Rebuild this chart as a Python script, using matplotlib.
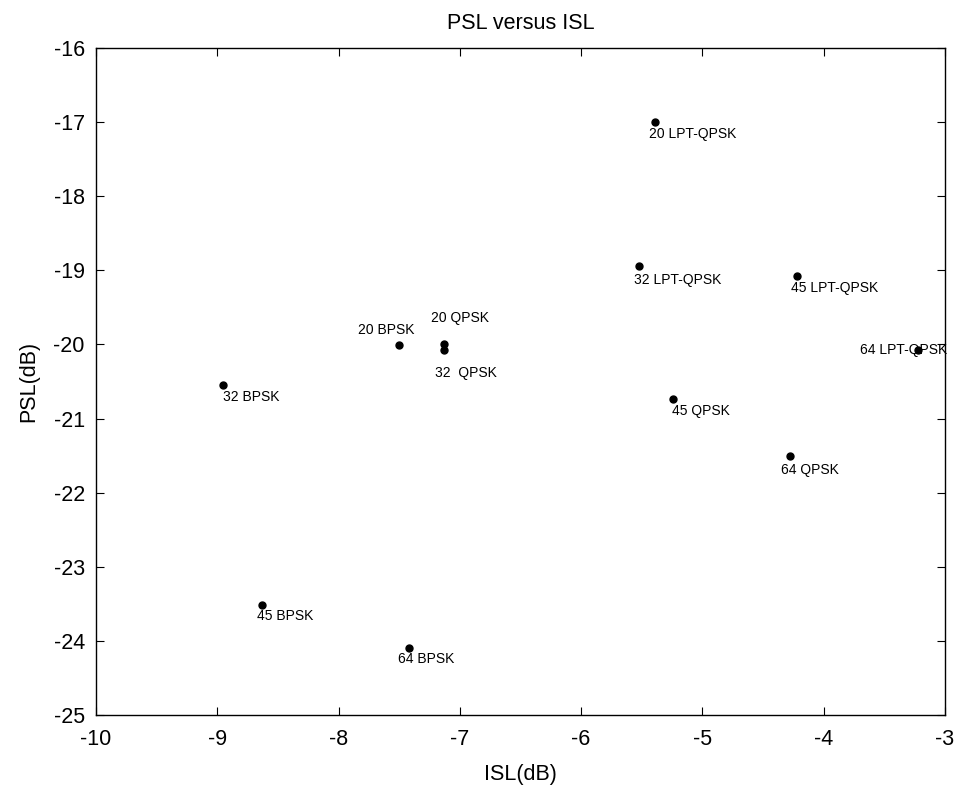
import matplotlib
matplotlib.use("Agg")
import matplotlib.pyplot as plt

plt.rcParams['font.family'] = ['Liberation Sans', 'DejaVu Sans']
plt.rcParams['axes.unicode_minus'] = False

# code sets: ISL and PSL in dB
names = ['20 LPT-QPSK', '32 LPT-QPSK', '45 LPT-QPSK', '64 LPT-QPSK',
         '20 QPSK', '32  QPSK', '45 QPSK', '64 QPSK',
         '20 BPSK', '32 BPSK', '45 BPSK', '64 BPSK']
isl = [-5.39, -5.52, -4.22, -3.22,
       -7.13, -7.13, -5.24, -4.28,
       -7.50, -8.95, -8.63, -7.42]
psl = [-17.0, -18.94, -19.08, -20.08,
       -20.0, -20.08, -20.74, -21.51,
       -20.01, -20.55, -23.52, -24.10]

# label placement (pixel offset from the dot, horizontal alignment)
offsets = {
    '20 LPT-QPSK': (-6, -12, 'left'),
    '32 LPT-QPSK': (-5, -14, 'left'),
    '45 LPT-QPSK': (-6, -12, 'left'),
    '64 LPT-QPSK': (-58, 0, 'left'),
    '20 QPSK': (16, 26, 'center'),
    '32  QPSK': (-9, -23, 'left'),
    '45 QPSK': (-1, -12, 'left'),
    '64 QPSK': (-9, -14, 'left'),
    '20 BPSK': (-13, 15, 'center'),
    '32 BPSK': (0, -12, 'left'),
    '45 BPSK': (-5, -11, 'left'),
    '64 BPSK': (-11, -11, 'left'),
}

fig = plt.figure(figsize=(9.56, 7.87), dpi=100)
ax = fig.add_axes([0.1004, 0.0915, 0.888, 0.8475])

ax.plot(isl, psl, 'o', color='black', markersize=5, linestyle='none')

for name, x, y in zip(names, isl, psl):
    dx, dy, ha = offsets[name]
    ax.annotate(name, (x, y), xytext=(dx, dy), textcoords='offset pixels',
                ha=ha, va='center', fontsize=10, annotation_clip=False,
                clip_on=False)

ax.set_xlim(-10, -3)
ax.set_ylim(-25, -16)
ax.set_xticks(range(-10, -2))
ax.set_yticks(range(-25, -15))
ax.tick_params(direction='in', top=True, right=True, length=6, width=0.8,
               labelsize=15.5)
ax.tick_params(axis='x', pad=10)
ax.tick_params(axis='y', pad=8)
for sp in ax.spines.values():
    sp.set_linewidth(1.0)

ax.set_xlabel('ISL(dB)', fontsize=15.5, labelpad=10)
ax.set_ylabel('PSL(dB)', fontsize=15.5, labelpad=10)
ax.set_title('PSL versus ISL', fontsize=15.5, pad=14)

fig.savefig('out.png', dpi=100)
